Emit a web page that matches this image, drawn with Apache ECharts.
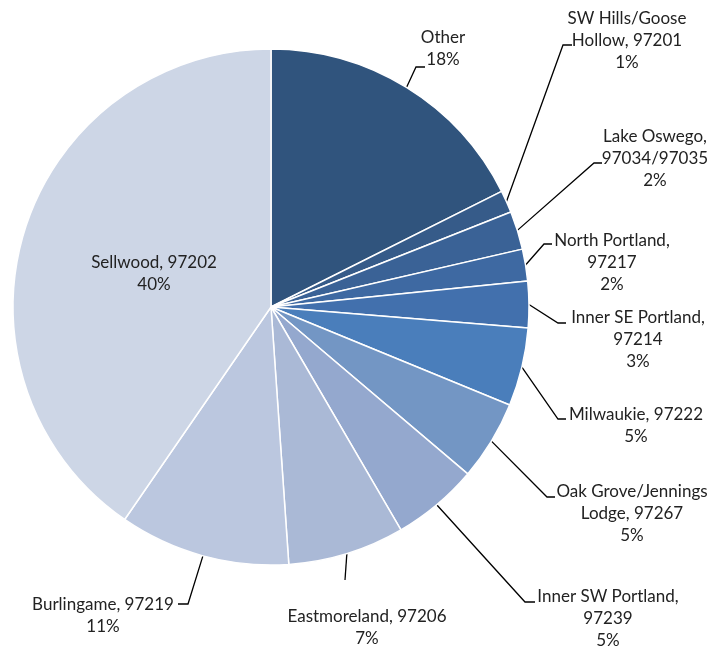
<!DOCTYPE html>
<html><head><meta charset="utf-8">
<script src="https://cdn.jsdelivr.net/npm/echarts@6/dist/echarts.min.js"></script>
<style>html,body{margin:0;padding:0;background:#fff}#c{width:719px;height:649px}</style>
</head><body><div id="c"></div>
<script>
const categories = ['Other','SW Hills/Goose\nHollow, 97201','Lake Oswego,\n97034/97035','North Portland,\n97217','Inner SE Portland,\n97214','Milwaukie, 97222','Oak Grove/Jennings\nLodge, 97267','Inner SW Portland,\n97239','Eastmoreland, 97206','Burlingame, 97219','Sellwood, 97202'];
const values = [17.6, 1.4, 2.4, 2.0, 2.9, 4.9, 5.0, 5.4, 7.3, 10.7, 40.4];
const colors = ['#30547d','#365b89','#3a6296','#3e69a2','#4270ad','#4a7ebb','#7396c4','#94a8ce','#aab9d6','#bbc7df','#cdd6e6'];
// label layout: [textCenterX, textCenterY, elbowX, elbowY, endX, endY]
const labelPos = [
  [443,49,416,67,425,67],
  [627,41,563,45,572,45],
  [655,159,594,163,602,163],
  [612,263,544,244,552,244],
  [638,340,558,323,566,323],
  [636,426,558,419,566,419],
  [632,514,547,497,555,497],
  [608,619,525,602,535,602],
  [367,628,345,580,345,580],
  [103,616,188,604,178,604],
  [154,274,null,null,null,null]
];
const total = values.reduce((a,b)=>a+b,0);
const chart = echarts.init(document.getElementById('c'));
chart.setOption({
  animation:false,
  series:[{
    type:'pie',
    center:[271,307],
    radius:258,
    startAngle:90,
    clockwise:true,
    avoidLabelOverlap:false,
    data: categories.map((n,i)=>{
      const d = {name:n,value:values[i],itemStyle:{color:colors[i]}};
      if(i===10){ d.label={position:'inside'}; d.labelLine={show:false}; }
      return d;
    }),
    itemStyle:{borderColor:'#fff',borderWidth:1.5},
    label:{
      show:true,
      formatter:p=>p.name+'\n'+Math.round(p.value/total*100)+'%',
      fontFamily:'Lato',fontSize:17,lineHeight:22,color:'#222',align:'center'
    },
    labelLine:{show:true,lineStyle:{color:'#000',width:1.3}},
    labelLayout:function(p){
      const L = labelPos[p.dataIndex];
      const out = {x:L[0],y:L[1],align:'center',verticalAlign:'middle'};
      if(L[2]!==null && p.labelLinePoints){
        const s = p.labelLinePoints[0];
        out.labelLinePoints=[[s[0],s[1]],[L[2],L[3]],[L[4],L[5]]];
      }
      return out;
    }
  }]
});
</script></body></html>
